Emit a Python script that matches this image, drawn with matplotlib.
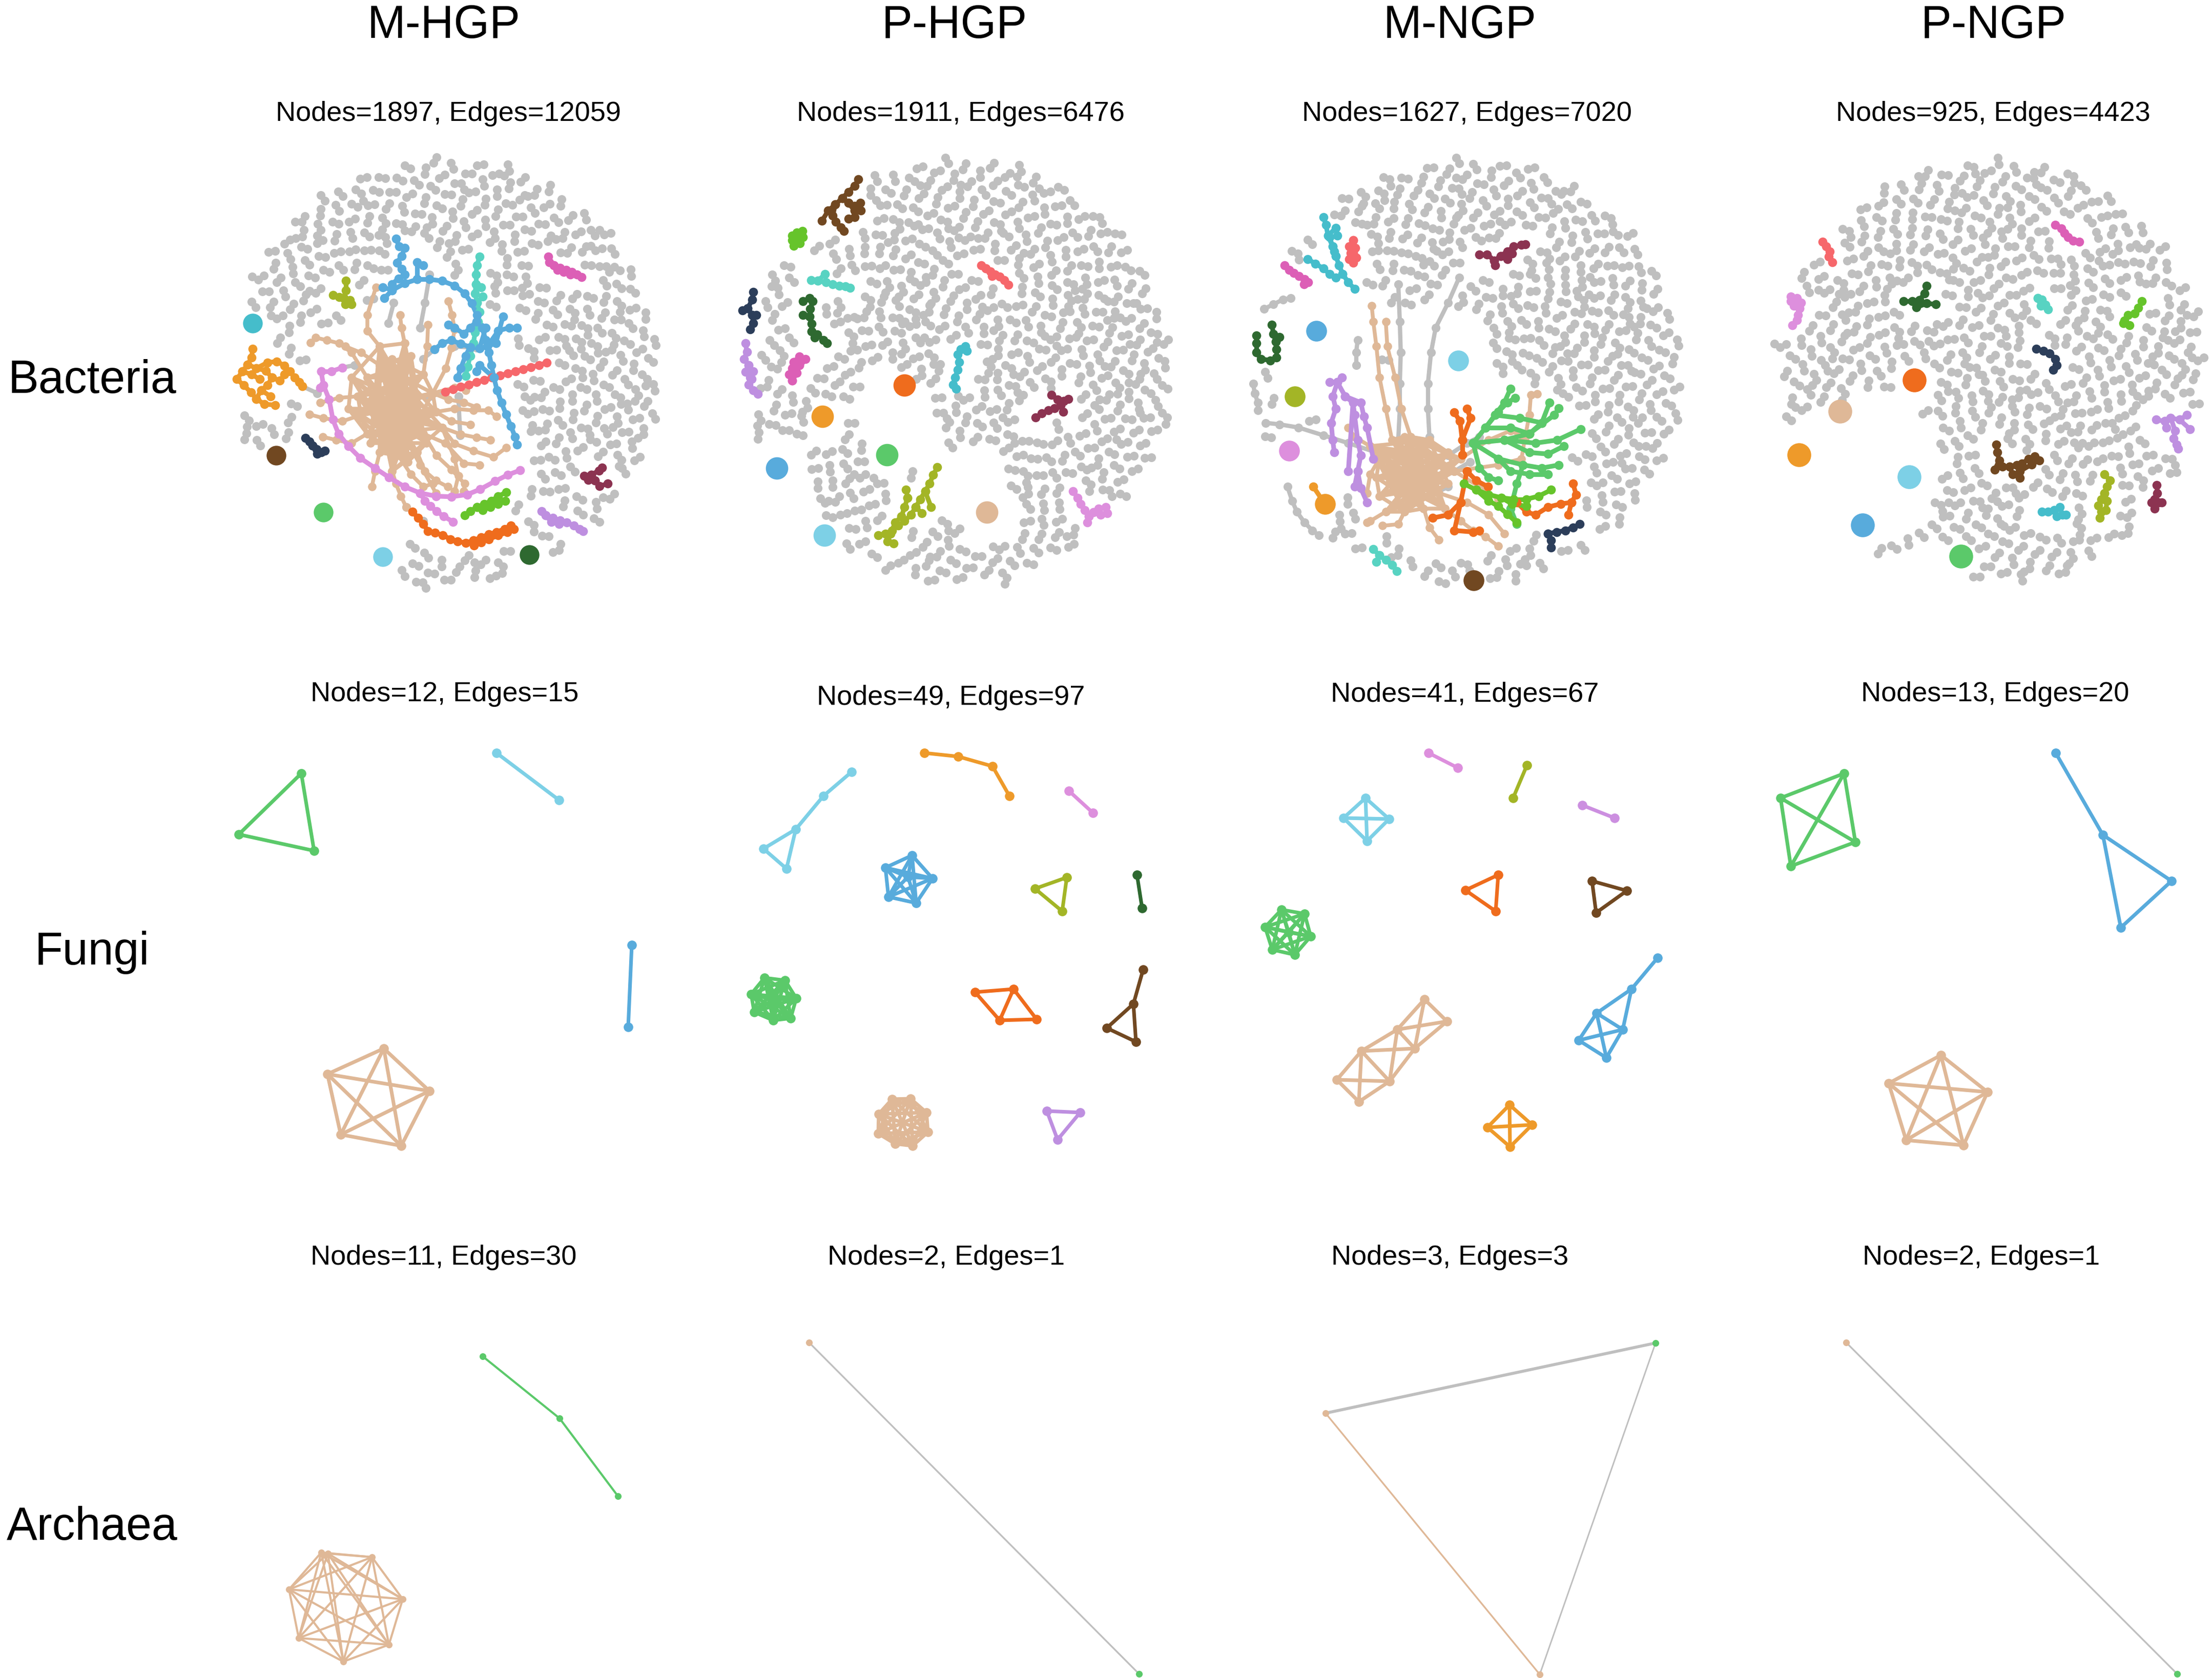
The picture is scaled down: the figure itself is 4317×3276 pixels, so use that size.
import numpy as np
import matplotlib
matplotlib.use('Agg')
import matplotlib.pyplot as plt
from matplotlib.collections import LineCollection

W_PX, H_PX, DPI = 4317, 3276, 300
plt.rcParams['font.family'] = ['Liberation Sans', 'DejaVu Sans']

PAL = dict(tan='#dfb897', gray='#bfbfbf', blue='#58abdc', sky='#7dd0e6', green='#5bc96a',
           turq='#58d3c2', magenta='#dc5fb6', olive='#a3b526', teal='#45bdcb', orange='#ee9a2a',
           orchid='#dd8fdd', salmon='#f6676b', navy='#2c3e5a', brown='#714821', dkgreen='#2e6930',
           lime='#66c42b', orred='#ef6c1d', maroon='#8c3351', lav='#be8fe0', lilac='#cc8fe0')

columns = ['M-HGP', 'P-HGP', 'M-NGP', 'P-NGP']
rows = ['Bacteria', 'Fungi', 'Archaea']
stats = [['Nodes=1897, Edges=12059', 'Nodes=1911, Edges=6476', 'Nodes=1627, Edges=7020', 'Nodes=925, Edges=4423'],
         ['Nodes=12, Edges=15', 'Nodes=49, Edges=97', 'Nodes=41, Edges=67', 'Nodes=13, Edges=20'],
         ['Nodes=11, Edges=30', 'Nodes=2, Edges=1', 'Nodes=3, Edges=3', 'Nodes=2, Edges=1']]

# text anchors (pixels of the picture)
title_x = [866, 1863, 2849, 3891]
stat_x = [[875, 1875, 2863, 3890], [868, 1856, 2859, 3894], [866, 1847, 2830, 3867]]
stat_base = [[236, 236, 236, 236], [1369, 1376, 1370, 1369], [2469, 2469, 2469, 2469]]
row_base = [767, 1883, 3006]

# ---------------- Bacteria (positions in a 1560x1560 reading frame per panel) ----------------
FR = 1560
# frame = (left px, top px, px per unit x, px per unit y), disc = (cx, cy, r) in px
mhgp_frame, mhgp_disc, mhgp_npairs = (400, 250, 0.609, 0.609), (870, 725, 426), 600
phgp_frame, phgp_disc, phgp_npairs = (1400, 250, 0.609, 0.609), (1869, 724, 424), 600
mngp_frame, mngp_disc, mngp_npairs = (2400, 250, 0.609, 0.609), (2866, 726, 426), 600
pngp_frame, pngp_disc, pngp_npairs = (3420, 250, 0.577, 0.609), (3887, 724, 424), 570

mhgp_holes = [(400, 1250, 280), (650, 880, 330)]
phgp_holes = [(570, 900, 140), (800, 1130, 120), (870, 1230, 110), (200, 1080, 110), (240, 1290, 110),
              (345, 930, 70), (545, 1050, 70), (660, 1020, 70), (190, 210, 130)]
mngp_holes = [(720, 1060, 330), (300, 720, 180), (690, 720, 150), (240, 1080, 140)]
pngp_holes = [(380, 1090, 270), (170, 230, 130), (600, 1420, 90)]

mhgp_dots = [(152, 625, 'teal'), (228, 1050, 'brown'), (380, 1232, 'green'), (570, 1375, 'sky'), (1040, 1368, 'dkgreen')]
phgp_dots = [(600, 825, 'orred'), (337, 925, 'orange'), (543, 1047, 'green'), (190, 1090, 'blue'),
             (343, 1305, 'sky'), (863, 1232, 'tan')]
mngp_dots = [(277, 650, 'blue'), (732, 745, 'sky'), (208, 860, 'olive'), (190, 1035, 'orchid'),
             (782, 1450, 'brown'), (305, 1205, 'orange')]
pngp_dots = [(547, 808, 'orred'), (297, 908, 'tan'), (158, 1048, 'orange'), (530, 1118, 'sky'),
             (373, 1272, 'blue'), (705, 1373, 'green')]
dot_sizes = [85, 110, 95, 125]

mhgp_modules = [
    ('olive', [[(452, 490), (452, 520), (445, 545)], [(410, 535), (430, 542), (445, 545), (465, 552), (470, 565)], [(445, 545), (450, 565)]]),
    ('magenta', [[(1100, 412), (1103, 430), (1118, 440), (1138, 448), (1158, 455), (1175, 462), (1192, 470), (1207, 478)],
                 [(1118, 440), (1130, 455), (1150, 462), (1170, 470)]]),
    ('maroon', [[(1215, 1115), (1238, 1112), (1262, 1098), (1272, 1088)], [(1238, 1112), (1250, 1130), (1265, 1148), (1290, 1140)], [(1250, 1130), (1228, 1128)]]),
    ('lav', [[(1078, 1228), (1092, 1242), (1115, 1250), (1138, 1258), (1160, 1265), (1182, 1275), (1200, 1285), (1212, 1292)], [(1092, 1242), (1110, 1262), (1135, 1270)]]),
    ('lime', [[(832, 1242), (850, 1228), (872, 1215), (895, 1205), (918, 1195), (940, 1180), (965, 1168)],
              [(872, 1215), (890, 1225), (915, 1215), (940, 1205), (962, 1195)]]),
    ('navy', [[(322, 993), (335, 1005), (345, 1018), (358, 1030), (372, 1040), (385, 1035)], [(345, 1018), (360, 1045)]]),
    ('orange', [[(152, 708), (150, 735), (137, 758), (120, 780), (102, 805), (125, 825), (148, 848), (165, 868), (190, 885), (225, 888)],
                [(137, 758), (165, 770), (195, 778), (215, 800), (200, 825), (180, 840), (165, 868)],
                [(165, 770), (200, 752), (230, 748), (255, 762), (272, 780), (288, 800), (302, 815), (312, 828)],
                [(215, 800), (240, 810), (255, 790)], [(180, 840), (210, 860)], [(120, 780), (150, 790), (175, 805)]]),
    ('orred', [[(665, 1230), (683, 1250), (700, 1270), (715, 1292), (738, 1298), (762, 1305), (787, 1318), (810, 1325), (835, 1330),
                (860, 1322), (885, 1312), (910, 1302), (935, 1295), (960, 1285), (980, 1275)],
               [(860, 1322), (862, 1338), (885, 1328), (910, 1318), (940, 1306), (968, 1296), (990, 1285)]]),
    ('orchid', [[(372, 780), (380, 825), (398, 870), (410, 935), (428, 980), (460, 1020), (498, 1058), (545, 1090), (590, 1120),
                 (640, 1150), (690, 1170), (740, 1180), (790, 1182), (840, 1175), (882, 1158), (930, 1132), (970, 1112), (1010, 1097)],
                [(690, 1170), (705, 1195), (722, 1212), (742, 1228), (765, 1245), (795, 1262)],
                [(372, 780), (405, 780), (440, 768)], [(380, 825), (370, 832)]]),
    ('salmon', [[(770, 845), (795, 838), (820, 830), (845, 823), (870, 815), (895, 808), (920, 800), (945, 793), (970, 787),
                 (995, 780), (1020, 773), (1045, 767), (1070, 760), (1095, 752)]]),
    ('turq', [[(880, 412), (872, 440), (868, 470), (868, 500), (866, 530), (872, 560), (880, 590), (875, 620), (866, 655),
               (860, 690), (850, 730), (842, 765), (835, 795)], [(868, 500), (885, 510)], [(872, 560), (890, 540)]]),
    ('blue', [[(613, 355), (622, 380), (640, 385), (630, 410), (615, 432), (630, 452), (640, 470), (620, 482), (600, 500)],
              [(575, 545), (600, 520), (640, 498), (680, 485), (720, 485), (760, 490), (800, 505), (832, 530), (855, 562), (872, 600),
               (888, 640), (900, 680), (910, 720), (918, 760), (926, 800), (936, 840), (950, 880), (965, 918), (980, 955), (994, 990), (1000, 1015)],
              [(570, 510), (600, 520)], [(680, 485), (680, 430), (700, 440)],
              [(735, 710), (760, 690), (790, 680), (820, 692), (850, 702), (880, 706), (905, 700), (932, 690), (955, 605)],
              [(905, 700), (940, 650), (975, 640), (1000, 640)],
              [(880, 706), (900, 640), (870, 620), (850, 640), (830, 660), (800, 640), (780, 630)],
              [(926, 800), (880, 760), (870, 780)], [(850, 702), (835, 730), (820, 770), (810, 800)]]),
]
mhgp_hub_center = (600, 900)
mhgp_hub_core = [(560, 760), (600, 740), (640, 760), (520, 800), (580, 800), (650, 810), (700, 790), (490, 860), (550, 850),
                 (610, 850), (680, 860), (730, 850), (500, 920), (560, 910), (620, 920), (690, 920), (740, 910), (520, 980),
                 (580, 980), (640, 990), (700, 980), (560, 1040), (620, 1050), (680, 1040), (600, 1100), (640, 690),
                 (560, 700), (470, 800), (460, 900), (760, 960), (590, 870), (630, 880), (570, 950), (650, 940),
                 (540, 880), (670, 900), (600, 1000), (530, 1010), (710, 1010), (650, 1070), (600, 780), (660, 730)]
mhgp_hub_spokes = [
    [(560, 700), (520, 650), (520, 600), (548, 510)],
    [(520, 800), (470, 720), (430, 690), (390, 680), (355, 672), (338, 688)],
    [(640, 690), (630, 640), (625, 600)],
    [(700, 790), (712, 700), (715, 630)],
    [(730, 850), (772, 770), (790, 705), (800, 645), (792, 600), (780, 555)],
    [(730, 850), (800, 832), (835, 840)],
    [(740, 910), (800, 900), (860, 905), (908, 905), (935, 925)],
    [(760, 960), (820, 982), (870, 992), (915, 1000)],
    [(760, 960), (800, 1012), (860, 1035), (925, 1055), (965, 1025)],
    [(700, 980), (742, 1050), (790, 1095), (832, 1140), (830, 1165)],
    [(680, 1040), (705, 1100), (740, 1130), (778, 1150)],
    [(600, 1100), (612, 1140), (628, 1180), (645, 1215)],
    [(560, 1040), (545, 1100), (535, 1150)],
    [(520, 980), (470, 1010), (420, 1000), (378, 990)],
    [(500, 920), (440, 940), (380, 930), (335, 918)],
    [(490, 860), (430, 865), (370, 880)],
    [(760, 960), (800, 1060), (812, 1115), (800, 1165)],
    [(620, 1050), (660, 1110), (700, 1150), (730, 1140)],
    [(730, 850), (780, 870), (830, 880), (870, 895)],
    [(560, 760), (500, 720), (450, 700)],
    [(740, 910), (790, 940), (850, 950)],
    [(700, 980), (770, 1010), (830, 1075), (880, 1080)],
    [(640, 990), (690, 1080), (740, 1170)],
]
mhgp_links = [[(720, 470), (705, 560), (690, 640)], [(605, 560), (588, 625)], [(735, 710), (700, 740)], [(800, 700), (870, 705)],
              [(720, 860), (770, 848)], [(812, 860), (818, 985)], [(645, 1215), (700, 1260)], [(312, 828), (360, 850)],
              [(440, 768), (480, 760)]]

phgp_modules = [
    ('brown', [[(452, 165), (440, 185), (420, 205), (400, 225), (378, 245), (355, 265), (335, 298)],
               [(400, 225), (420, 240), (440, 250), (458, 240)], [(420, 240), (440, 265), (460, 265)],
               [(440, 265), (440, 285), (420, 290)], [(378, 245), (370, 280), (380, 300), (395, 318), (405, 330)]]),
    ('lime', [[(240, 345), (255, 335), (272, 330), (275, 350), (265, 370), (245, 378), (240, 360), (255, 355)]]),
    ('turq', [[(300, 487), (322, 490), (345, 468)], [(322, 490), (348, 495), (370, 500), (390, 505), (410, 508), (425, 512)]]),
    ('navy', [[(115, 525), (112, 550), (97, 578), (80, 585)], [(97, 578), (112, 600), (125, 600)], [(112, 600), (115, 625), (105, 645)]]),
    ('dkgreen', [[(275, 555), (295, 545), (305, 555), (298, 580), (295, 605), (302, 628), (302, 652), (320, 662), (340, 680), (352, 690)],
                 [(302, 652), (312, 672)], [(295, 605), (275, 600)]]),
    ('lav', [[(90, 690), (95, 718), (85, 740), (100, 760), (90, 782), (105, 800), (100, 822), (115, 840), (130, 852)],
             [(100, 760), (115, 780), (110, 805)]]),
    ('magenta', [[(262, 733), (245, 750), (240, 770), (230, 790), (240, 810)], [(245, 750), (262, 760), (270, 745), (282, 740)],
                 [(262, 760), (255, 785), (240, 810)]]),
    ('salmon', [[(845, 440), (860, 450), (875, 460), (890, 470), (905, 476), (920, 487), (932, 502)], [(860, 450), (880, 475)]]),
    ('teal', [[(795, 700), (780, 710), (770, 725), (775, 750), (770, 775), (762, 800), (755, 822), (765, 835)], [(780, 710), (800, 715)]]),
    ('maroon', [[(1070, 855), (1090, 870), (1110, 875), (1125, 868)], [(1110, 875), (1100, 888), (1108, 910)],
                [(1100, 888), (1080, 898), (1060, 905), (1040, 915), (1020, 928)]]),
    ('olive', [[(705, 1087), (692, 1112), (680, 1140), (666, 1165), (650, 1190), (636, 1215), (620, 1240), (600, 1260), (580, 1275),
                (560, 1290), (538, 1300), (515, 1305)], [(666, 1165), (685, 1215)], [(636, 1215), (655, 1235)],
               [(610, 1185), (600, 1215), (590, 1245), (570, 1265), (555, 1300), (545, 1325), (565, 1332)], [(610, 1185), (605, 1160)]]),
    ('orchid', [[(1140, 1165), (1155, 1185), (1165, 1205), (1177, 1225), (1190, 1245), (1205, 1232), (1222, 1220), (1245, 1215)],
                [(1205, 1232), (1228, 1240), (1250, 1235)], [(1190, 1245), (1185, 1265)]]),
]

mngp_modules = [
    ('orange', [[(268, 1150), (305, 1205)]]),
    ('teal', [[(300, 285), (308, 310), (315, 345), (330, 380), (340, 410), (350, 440), (362, 468), (380, 495), (400, 515)],
              [(315, 345), (340, 320), (345, 345)], [(330, 380), (320, 350)],
              [(250, 420), (275, 435), (300, 450), (320, 468), (340, 480), (362, 468)], [(340, 410), (335, 395)]]),
    ('salmon', [[(395, 360), (383, 380), (388, 400), (383, 420), (395, 432), (405, 415), (402, 385), (395, 360)]]),
    ('magenta', [[(175, 440), (190, 455), (205, 465), (222, 475), (240, 485), (252, 495), (238, 500)]]),
    ('maroon', [[(800, 405), (825, 405), (848, 425), (868, 410), (890, 395), (910, 380), (935, 375), (948, 372)],
                [(868, 410), (890, 420), (905, 402)], [(848, 425), (850, 440)]]),
    ('dkgreen', [[(135, 630), (140, 660), (148, 685), (150, 710), (150, 735), (130, 745), (100, 740), (85, 720), (85, 690), (85, 665)],
                 [(148, 685), (160, 670)]]),
    ('lav', [[(320, 815), (345, 815), (360, 800)], [(345, 815), (330, 860), (340, 900), (325, 945), (330, 1000), (335, 1040)],
             [(345, 815), (370, 860), (395, 880), (400, 920), (410, 1000), (420, 1050), (410, 1100), (420, 1155), (440, 1200)],
             [(370, 860), (420, 880), (430, 925), (440, 960), (460, 1060)], [(410, 1100), (400, 1150)], [(395, 880), (380, 1100)]]),
    ('turq', [[(460, 1350), (480, 1370), (500, 1385), (520, 1400), (535, 1420)], [(480, 1370), (470, 1390)]]),
    ('navy', [[(1020, 1300), (1030, 1322), (1030, 1345)], [(1020, 1300), (1048, 1295), (1075, 1290), (1100, 1280), (1122, 1270)]]),
    ('green', [[(780, 1010), (820, 960), (850, 920), (880, 880), (900, 835)], [(820, 960), (860, 910), (890, 880), (915, 865)],
               [(780, 1010), (880, 1000), (960, 980), (1000, 945), (1025, 880)], [(960, 980), (1040, 920), (1055, 898)],
               [(880, 1000), (980, 1010), (1050, 1000), (1125, 965)], [(880, 1000), (960, 1040), (1020, 1045), (1070, 1020)],
               [(780, 1010), (860, 1060), (940, 1080), (1000, 1090), (1055, 1080)], [(860, 1060), (900, 1100), (960, 1110), (1020, 1110)],
               [(780, 1010), (800, 1090), (830, 1120), (860, 1130)], [(940, 1080), (920, 1140), (900, 1220), (920, 1270)],
               [(820, 960), (900, 960), (960, 980)], [(850, 920), (930, 930), (1000, 945)]]),
    ('orred', [[(720, 912), (738, 940), (745, 1000), (745, 1048)], [(760, 900), (772, 930), (745, 1000)],
               [(760, 1100), (790, 1130), (828, 1150)], [(760, 1100), (740, 1200), (700, 1240), (650, 1250)],
               [(740, 1200), (720, 1290), (780, 1295), (800, 1290)],
               [(1100, 1140), (1110, 1175), (1095, 1200), (1060, 1205), (1020, 1215), (980, 1240), (950, 1230), (920, 1200)],
               [(1095, 1200), (1085, 1240)]]),
    ('lime', [[(750, 1140), (790, 1160), (830, 1175), (870, 1185), (910, 1190), (950, 1190), (990, 1180), (1030, 1160)],
              [(790, 1160), (830, 1195), (860, 1212), (890, 1238), (920, 1265)], [(870, 1185), (905, 1205), (950, 1212)]]),
]
mngp_hub_center = (590, 1120)
mngp_hub_core = [(520, 1000), (580, 990), (640, 1000), (480, 1060), (540, 1050), (600, 1050), (660, 1060), (700, 1040),
                 (470, 1120), (530, 1110), (600, 1120), (660, 1120), (720, 1100), (480, 1180), (540, 1170), (610, 1180),
                 (670, 1170), (500, 1230), (560, 1230), (620, 1220), (690, 1220), (560, 990), (740, 1060), (450, 1020),
                 (570, 1080), (630, 1090), (510, 1140), (640, 1150), (580, 1200), (700, 1140), (500, 1090), (620, 1020)]
mngp_hub_spokes = [
    [(520, 1000), (500, 900), (480, 800), (470, 700), (460, 620), (455, 570)],
    [(580, 990), (550, 900), (530, 800), (505, 700), (500, 620)],
    [(450, 1020), (400, 990), (380, 960)],
    [(500, 1230), (450, 1260), (440, 1265)],
    [(560, 1230), (540, 1270), (490, 1275)],
    [(690, 1220), (740, 1260), (780, 1290), (820, 1310), (860, 1340)],
    [(670, 1170), (760, 1200), (830, 1240), (880, 1300)],
    [(720, 1100), (800, 1150), (860, 1190)],
    [(740, 1060), (830, 1000), (900, 970), (940, 990)],
    [(720, 1100), (860, 1080), (935, 1060), (945, 1000), (960, 920), (965, 855), (985, 852)],
    [(610, 1180), (640, 1280), (670, 1320)],
    [(480, 1060), (450, 1110), (440, 1170)],
]
mngp_links = [[(540, 1000), (545, 900), (545, 820), (548, 720), (545, 620), (540, 500)],
              [(640, 990), (635, 900), (635, 820), (645, 720), (660, 640), (700, 560), (735, 480)],
              [(470, 1040), (380, 1010), (300, 985), (220, 960), (160, 950), (115, 945)],
              [(700, 1050), (760, 1010), (800, 990)], [(720, 1100), (770, 1070)], [(640, 1180), (700, 1150)],
              [(75, 820), (80, 850), (90, 880), (90, 905)],
              [(185, 1150), (200, 1195), (215, 1230), (240, 1265), (265, 1290), (285, 1305)],
              [(410, 680), (405, 720), (405, 760)], [(110, 580), (140, 565), (170, 550), (195, 545)]]

pngp_modules = [
    ('salmon', [[(237, 365), (250, 380), (262, 395), (258, 412), (270, 430)]]),
    ('orchid', [[(130, 540), (150, 545), (165, 560), (160, 578), (140, 570), (130, 555)], [(160, 578), (155, 600), (150, 615), (135, 633)]]),
    ('dkgreen', [[(590, 505), (582, 530), (565, 552), (540, 555), (512, 555)], [(565, 552), (555, 575), (590, 562), (620, 565)]]),
    ('magenta', [[(1025, 310), (1045, 322), (1055, 337), (1068, 350), (1085, 362), (1105, 365)]]),
    ('turq', [[(965, 545), (980, 550), (992, 566), (1000, 582), (975, 570), (965, 545)]]),
    ('lime', [[(1318, 555), (1305, 577), (1293, 595), (1270, 600), (1258, 617), (1275, 632), (1255, 625)]]),
    ('navy', [[(960, 708), (985, 715), (1005, 722), (1025, 740), (1030, 760), (1018, 775)]]),
    ('brown', [[(825, 1015), (828, 1040), (835, 1065), (820, 1095), (845, 1085), (870, 1085), (895, 1080), (912, 1075), (935, 1060),
                (955, 1052), (970, 1065), (945, 1078), (905, 1100), (905, 1122)], [(870, 1085), (880, 1110)]]),
    ('lav', [[(1365, 935), (1395, 940), (1415, 930), (1445, 935), (1470, 920)], [(1445, 935), (1480, 965)],
             [(1415, 930), (1430, 970), (1425, 995), (1435, 1015), (1440, 1028)], [(1395, 940), (1400, 960)]]),
    ('teal', [[(980, 1230), (1000, 1230), (1020, 1225), (1040, 1215), (1048, 1240), (1060, 1240)], [(1020, 1225), (1030, 1245)]]),
    ('olive', [[(1190, 1110), (1210, 1130), (1200, 1150), (1190, 1170), (1180, 1190), (1170, 1210), (1180, 1230), (1175, 1250)],
               [(1190, 1170), (1200, 1195), (1195, 1225)]]),
    ('maroon', [[(1368, 1145), (1370, 1170), (1360, 1190), (1375, 1200), (1360, 1220)], [(1360, 1190), (1385, 1200)], [(1360, 1190), (1350, 1200)]]),
]

# ---------------- Fungi (pixel positions) ----------------
fungi_mhgp = [('green', [(588, 1510), (466, 1629), (613, 1661)], 'all'),
              ('sky', [(969, 1470), (1091, 1562)], 'all'),
              ('blue', [(1233, 1845), (1226, 2005)], 'all'),
              ('tan', [(749, 2047), (639, 2097), (838, 2130), (665, 2215), (783, 2237)], 'all')]
fungi_phgp = [('sky', [(1662, 1507), (1607, 1554), (1553, 1619), (1490, 1657), (1535, 1696)], [(0, 1), (1, 2), (2, 3), (3, 4), (4, 2)]),
              ('orange', [(1804, 1470), (1870, 1477), (1937, 1496), (1970, 1554)], 'chain'),
              ('orchid', [(2086, 1544), (2133, 1587)], 'all'),
              ('blue', [(1780, 1670), (1728, 1694), (1820, 1715), (1734, 1751), (1788, 1763), (1772, 1712)], 'all'),
              ('olive', [(2020, 1735), (2082, 1713), (2073, 1779)], 'all'),
              ('dkgreen', [(2219, 1708), (2229, 1773)], 'all'),
              ('green', [(1492, 1909), (1532, 1914), (1466, 1941), (1554, 1949), (1472, 1976), (1509, 1992), (1543, 1988), (1509, 1952)], 'all'),
              ('orred', [(1903, 1937), (1978, 1931), (1951, 1992), (2023, 1990)], [(0, 1), (1, 2), (2, 0), (1, 3), (2, 3)]),
              ('brown', [(2231, 1893), (2212, 1960), (2160, 2007), (2217, 2034)], [(0, 1), (1, 2), (2, 3), (3, 1)]),
              ('tan', [(1741, 2146), (1777, 2145), (1715, 2175), (1808, 2172), (1714, 2213), (1811, 2210), (1747, 2233), (1781, 2237)], 'all'),
              ('lav', [(2043, 2169), (2108, 2172), (2064, 2225)], 'all')]
fungi_mngp = [('orchid', [(2788, 1470), (2845, 1499)], 'all'),
              ('olive', [(2980, 1494), (2953, 1558)], 'all'),
              ('lilac', [(3088, 1572), (3151, 1597)], 'all'),
              ('sky', [(2665, 1558), (2622, 1597), (2711, 1599), (2668, 1642)], 'all'),
              ('orred', [(2924, 1708), (2860, 1738), (2919, 1779)], 'all'),
              ('brown', [(3107, 1720), (3175, 1739), (3115, 1782)], 'all'),
              ('green', [(2501, 1776), (2546, 1784), (2469, 1810), (2558, 1828), (2483, 1854), (2527, 1864), (2515, 1820)], 'all'),
              ('blue', [(3235, 1870), (3184, 1931), (3116, 1978), (3167, 2010), (3081, 2031), (3135, 2065)],
               [(0, 1), (1, 2), (1, 3), (2, 3), (2, 4), (2, 5), (3, 4), (3, 5), (4, 5)]),
              ('tan', [(2780, 1951), (2824, 1994), (2727, 2010), (2761, 2047), (2657, 2052), (2712, 2111), (2609, 2108), (2652, 2151)],
               [(0, 1), (0, 2), (0, 3), (1, 2), (1, 3), (2, 3), (2, 4), (2, 5), (3, 4), (3, 5), (4, 5), (4, 6), (4, 7), (5, 6), (5, 7), (6, 7)]),
              ('orange', [(2946, 2157), (2903, 2201), (2990, 2196), (2947, 2239)], 'all')]
fungi_pngp = [('green', [(3599, 1510), (3475, 1558), (3621, 1644), (3495, 1691)], 'all'),
              ('blue', [(4012, 1470), (4104, 1630), (4238, 1720), (4139, 1811)], [(0, 1), (1, 2), (2, 3), (3, 1)]),
              ('tan', [(3788, 2060), (3686, 2115), (3879, 2132), (3720, 2226), (3832, 2236)], 'all')]

# ---------------- Archaea (pixel positions, node colours, edge colours) ----------------
arch_mhgp_nodes = [(942, 2648, 'green'), (1092, 2769, 'green'), (1206, 2921, 'green'),
                   (627, 3031, 'tan'), (726, 3040, 'tan'), (564, 3103, 'tan'), (786, 3122, 'tan'),
                   (583, 3198, 'tan'), (759, 3211, 'tan'), (670, 3244, 'tan'), (640, 3033, 'tan')]
arch_mhgp_edges = [(0, 1, 'green', 1.0), (1, 2, 'green', 1.0)] + \
                  [(i, j, 'tan', 1.0) for i in range(3, 11) for j in range(i + 1, 11)]
arch_phgp_nodes = [(1579, 2621, 'tan'), (2223, 3268, 'green')]
arch_phgp_edges = [(0, 1, 'gray', 0.8)]
arch_mngp_nodes = [(2587, 2759, 'tan'), (3231, 2622, 'green'), (3005, 3269, 'tan')]
arch_mngp_edges = [(0, 2, 'tan', 0.8), (0, 1, 'gray', 1.4), (1, 2, 'gray', 0.7)]
arch_pngp_nodes = [(3603, 2621, 'tan'), (4249, 3268, 'green')]
arch_pngp_edges = [(0, 1, 'gray', 0.8)]

col_bounds = [(400, 1380), (1380, 2380), (2380, 3380), (3380, 4317)]

fig = plt.figure(figsize=(W_PX / DPI, H_PX / DPI), dpi=DPI)


def add_panel(x0, y0, x1, y1, xlim, ylim):
    ax = fig.add_axes([x0 / W_PX, 1 - y1 / H_PX, (x1 - x0) / W_PX, (y1 - y0) / H_PX])
    ax.set_xlim(*xlim)
    ax.set_ylim(*ylim)
    ax.axis('off')
    return ax


def to_px(frame, pts):
    ox, oy, fx, fy = frame
    p = np.asarray(pts, float).reshape(-1, 2)
    return np.column_stack([ox + fx * p[:, 0], oy + fy * p[:, 1]])


def to_frame(frame, pts):
    ox, oy, fx, fy = frame
    p = np.asarray(pts, float).reshape(-1, 2)
    return np.column_stack([(p[:, 0] - ox) / fx, (p[:, 1] - oy) / fy])


GA = np.pi * (3 - np.sqrt(5))


def gray_layout(n, disc, holes, busy):
    # pairs of unassigned nodes spread over the disc (sunflower packing)
    cx, cy, r = disc
    out = []
    for k in range(n):
        t = k * GA
        rr = (r - 10) * np.sqrt((k + 0.5) / n)
        x, y = cx + rr * np.cos(t), cy + rr * np.sin(t)
        if any((x - hx) ** 2 + (y - hy) ** 2 < hr ** 2 for hx, hy, hr in holes):
            continue
        if np.min((busy[:, 0] - x) ** 2 + (busy[:, 1] - y) ** 2) < 26 ** 2:
            continue
        # orientation follows the position, so neighbouring pairs point different ways
        a = (x * 0.31 + y * 0.47 + x * y * 0.0007) % np.pi
        dx, dy = 6.5 * np.cos(a), 6.5 * np.sin(a)
        pts = [(x - dx, y - dy), (x + dx, y + dy)]
        if int(x * 0.37 + y * 0.53) % 5 == 0:
            b = a + np.pi / 3
            pts.append((x + dx + 13 * np.cos(b), y + dy + 13 * np.sin(b)))
        out.append(pts)
    return out


def draw_bacteria(frame, disc, npairs, holes, dots, dsize, modules, hub=None, links=()):
    ox, oy, fx, fy = frame
    ax = add_panel(ox, oy, ox + fx * FR, oy + fy * FR, (0, FR), (FR, 0))
    busy = [p for _, chains in modules for ch in chains for p in ch]
    busy += [p for ch in links for p in ch]
    if hub is not None:
        busy += [hub[1]] + hub[2] + [p for ch in hub[3] for p in ch]
    busy_px = to_px(frame, busy)
    holes_px = [(ox + fx * hx, oy + fy * hy, hr * fx) for hx, hy, hr in holes]
    holes_px += [(ox + fx * dx, oy + fy * dy, 36) for dx, dy, _ in dots]
    pairs = gray_layout(npairs, disc, holes_px, busy_px)

    segs, gx = [], []
    for pts in pairs:
        f = to_frame(frame, pts)
        segs += [[f[i], f[i + 1]] for i in range(len(f) - 1)]
        gx += list(f)
    for ch in links:
        segs += [[ch[i], ch[i + 1]] for i in range(len(ch) - 1)]
        gx += list(ch)
    gx = np.array(gx)
    ax.add_collection(LineCollection(segs, colors=PAL['gray'], linewidths=2.0, zorder=1))
    ax.scatter(gx[:, 0], gx[:, 1], s=17, c=PAL['gray'], linewidths=0, zorder=2)

    if hub is not None:
        col, c0, core, spokes = hub
        n = len(core)
        hs = [[c0, p] for p in core] + [[core[i], core[(i + 1) % n]] for i in range(n)]
        hs += [[core[i], core[(i + 5) % n]] for i in range(n)] + [[core[i], core[(i + 11) % n]] for i in range(n)]
        hs += [[ch[i], ch[i + 1]] for ch in spokes for i in range(len(ch) - 1)]
        ax.add_collection(LineCollection(hs, colors=PAL[col], linewidths=1.8, zorder=3))
        hp = np.array([c0] + core + [p for ch in spokes for p in ch])
        ax.scatter(hp[:, 0], hp[:, 1], s=16, c=PAL[col], linewidths=0, zorder=4)

    for col, chains in modules:
        ms = [[ch[i], ch[i + 1]] for ch in chains for i in range(len(ch) - 1)]
        ax.add_collection(LineCollection(ms, colors=PAL[col], linewidths=2.2, zorder=5))
        mp = np.array([p for ch in chains for p in ch])
        ax.scatter(mp[:, 0], mp[:, 1], s=18, c=PAL[col], linewidths=0, zorder=6)

    for dx, dy, col in dots:
        ax.scatter([dx], [dy], s=dsize, c=PAL[col], linewidths=0, zorder=6)


def edge_list(n, rule):
    if rule == 'all':
        return [(i, j) for i in range(n) for j in range(i + 1, n)]
    if rule == 'chain':
        return [(i, i + 1) for i in range(n - 1)]
    return rule


def draw_fungi(j, modules):
    x0, x1 = col_bounds[j]
    ax = add_panel(x0, 1400, x1, 2320, (x0, x1), (2320, 1400))
    for col, nodes, rule in modules:
        segs = [[nodes[a], nodes[b]] for a, b in edge_list(len(nodes), rule)]
        ax.add_collection(LineCollection(segs, colors=PAL[col], linewidths=1.7, zorder=2))
        p = np.array(nodes)
        ax.scatter(p[:, 0], p[:, 1], s=20, c=PAL[col], linewidths=0, zorder=3, clip_on=False)


def draw_archaea(j, nodes, edges):
    x0, x1 = col_bounds[j]
    ax = add_panel(x0, 2500, x1, H_PX, (x0, x1), (H_PX, 2500))
    for a, b, col, lw in edges:
        ax.plot([nodes[a][0], nodes[b][0]], [nodes[a][1], nodes[b][1]], color=PAL[col], lw=lw, zorder=2,
                solid_capstyle='round', clip_on=False)
    for x, y, col in nodes:
        ax.scatter([x], [y], s=10, c=PAL[col], linewidths=0, zorder=3, clip_on=False)


draw_bacteria(mhgp_frame, mhgp_disc, mhgp_npairs, mhgp_holes, mhgp_dots, dot_sizes[0], mhgp_modules,
              ('tan', mhgp_hub_center, mhgp_hub_core, mhgp_hub_spokes), mhgp_links)
draw_bacteria(phgp_frame, phgp_disc, phgp_npairs, phgp_holes, phgp_dots, dot_sizes[1], phgp_modules)
draw_bacteria(mngp_frame, mngp_disc, mngp_npairs, mngp_holes, mngp_dots, dot_sizes[2], mngp_modules,
              ('tan', mngp_hub_center, mngp_hub_core, mngp_hub_spokes), mngp_links)
draw_bacteria(pngp_frame, pngp_disc, pngp_npairs, pngp_holes, pngp_dots, dot_sizes[3], pngp_modules)

for j, mods in enumerate([fungi_mhgp, fungi_phgp, fungi_mngp, fungi_pngp]):
    draw_fungi(j, mods)

for j, (nd, ed) in enumerate([(arch_mhgp_nodes, arch_mhgp_edges), (arch_phgp_nodes, arch_phgp_edges),
                              (arch_mngp_nodes, arch_mngp_edges), (arch_pngp_nodes, arch_pngp_edges)]):
    draw_archaea(j, nd, ed)

# labels
for j, name in enumerate(columns):
    fig.text(title_x[j] / W_PX, 1 - 74 / H_PX, name, fontsize=21.5, ha='center', va='baseline')
for i in range(3):
    for j in range(4):
        fig.text(stat_x[i][j] / W_PX, 1 - stat_base[i][j] / H_PX, stats[i][j], fontsize=13, ha='center', va='baseline')
for i, name in enumerate(rows):
    fig.text(180 / W_PX, 1 - row_base[i] / H_PX, name, fontsize=21.5, ha='center', va='baseline')

fig.savefig('out.png', dpi=DPI, facecolor='white')
